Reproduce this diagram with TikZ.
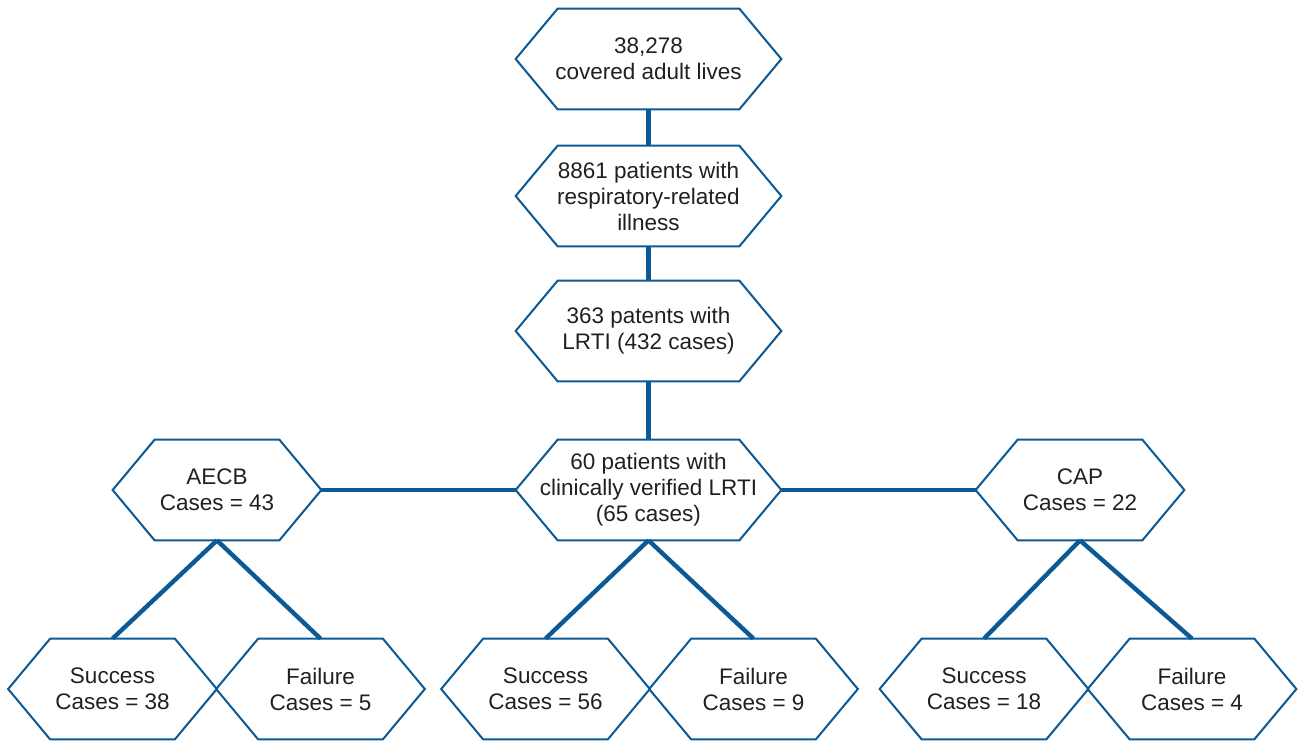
\documentclass[tikz,border=0pt]{standalone}
\usepackage{fontspec}
\setmainfont{Liberation Sans}
\usepackage{xcolor}
\usepackage{tikz}
\definecolor{navy}{HTML}{0B5A95}
\definecolor{ink}{HTML}{231F20}
\tikzset{
  box/.style={text=ink, align=center, inner sep=0pt, minimum height=2cm,
    font=\fontsize{12.8}{14.8}\selectfont},
  wide/.style={box, minimum width=5.3cm},
  narrow/.style={box, minimum width=4.16cm},
  hexa/.style={draw=navy, line width=1.15pt, line join=miter},
  link/.style={draw=navy, line width=2.5pt}
}

\begin{document}
\begin{tikzpicture}
  \useasboundingbox (0,0) rectangle (26,-14.84);

  \node[wide] (lives) at (12.97,-1.18) {38,278\\covered adult lives};
  \node[wide] (resp) at (12.97,-3.92) {8861 patients with\\respiratory-related\\illness};
  \node[wide] (lrti) at (12.97,-6.62) {363 patents with\\LRTI (432 cases)};
  \node[wide] (verified) at (12.97,-9.80) {60 patients with\\clinically verified LRTI\\(65 cases)};
  \node[narrow] (aecb) at (4.34,-9.80) {AECB\\Cases = 43};
  \node[narrow] (cap) at (21.60,-9.80) {CAP\\Cases = 22};

  \node[narrow] (succA) at (2.25,-13.78) {Success\\Cases = 38};
  \node[narrow] (failA) at (6.41,-13.78) {Failure\\Cases = 5};
  \node[narrow] (succV) at (10.91,-13.78) {Success\\Cases = 56};
  \node[narrow] (failV) at (15.07,-13.78) {Failure\\Cases = 9};
  \node[narrow] (succC) at (19.68,-13.78) {Success\\Cases = 18};
  \node[narrow] (failC) at (23.84,-13.78) {Failure\\Cases = 4};

  % hexagon outlines round the text nodes
  \foreach \n in {lives,resp,lrti,verified,aecb,cap,succA,failA,succV,failV,succC,failC}
    \draw[hexa] (\n.west) -- ([xshift=0.84cm]\n.north west) -- ([xshift=-0.84cm]\n.north east)
      -- (\n.east) -- ([xshift=-0.84cm]\n.south east) -- ([xshift=0.84cm]\n.south west) -- cycle;

  \draw[link] (lives) -- (resp);
  \draw[link] (resp) -- (lrti);
  \draw[link] (lrti) -- (verified);
  \draw[link] (aecb) -- (verified);
  \draw[link] (verified) -- (cap);

  \draw[link] (aecb.south) -- (succA.north);
  \draw[link] (aecb.south) -- (failA.north);
  \draw[link] (verified.south) -- (succV.north);
  \draw[link] (verified.south) -- (failV.north);
  \draw[link] (cap.south) -- (succC.north);
  \draw[link] (cap.south) -- (failC.north);
\end{tikzpicture}
\end{document}
